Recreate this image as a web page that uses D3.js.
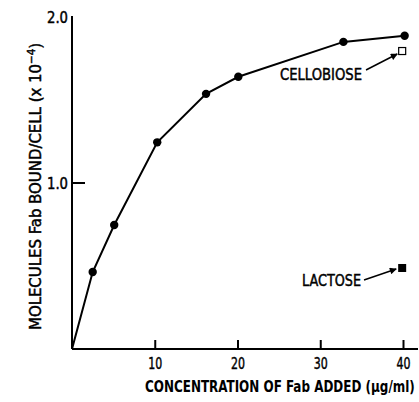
<!DOCTYPE html>
<html><head><meta charset="utf-8">
<script src="https://cdn.jsdelivr.net/npm/d3@7"></script>
<style>
body{margin:0;background:#fff;}
text{font-family:"Liberation Sans Narrow","Arial Narrow","DejaVu Sans Condensed",sans-serif;fill:#000;}
.med{stroke:#000;stroke-width:0.45;}
</style></head><body>
<svg id="c" width="419" height="402"></svg>
<script>
const concentration = [0, 2.5, 5.1, 10.3, 16.2, 20.1, 32.8, 40.2];
const fabBound = [0, 0.464, 0.747, 1.245, 1.537, 1.64, 1.85, 1.887];
const cellobiose = {x: 39.9, y: 1.795};
const lactose = {x: 39.9, y: 0.488};
const xTicks = [10, 20, 30, 40];
const yTicks = [1.0, 2.0];
const xTitle = "CONCENTRATION OF Fab ADDED (\u03bcg/ml)";

const svg = d3.select("#c");
const x = d3.scaleLinear().domain([0, 40]).range([72, 403]);
const y = d3.scaleLinear().domain([0, 2]).range([349, 17]);

// axes lines
svg.append("line").attr("x1", 72).attr("x2", 418).attr("y1", y(0)).attr("y2", y(0))
  .attr("stroke", "#000").attr("stroke-width", 2);
svg.append("line").attr("x1", 72).attr("x2", 72).attr("y1", y(0)).attr("y2", y(2) - 1)
  .attr("stroke", "#000").attr("stroke-width", 2);

// x ticks
const xa = svg.append("g").attr("transform", `translate(0,${y(0)})`)
  .call(d3.axisBottom(x).tickValues(xTicks).tickSize(-9).tickPadding(20).tickFormat(d3.format("d")));
xa.select(".domain").remove();
xa.selectAll(".tick line").attr("stroke-width", 2);
xa.selectAll(".tick text").attr("font-size", 16).attr("dy", "0").attr("class", "med")
  .attr("textLength", 14).attr("lengthAdjust", "spacingAndGlyphs");

// y ticks
const ya = svg.append("g").attr("transform", "translate(72,0)")
  .call(d3.axisLeft(y).tickValues(yTicks).tickSize(0).tickPadding(4).tickFormat(d3.format(".1f")));
ya.select(".domain").remove();
ya.selectAll(".tick text").attr("font-size", 16).attr("class", "med")
  .attr("textLength", 21).attr("lengthAdjust", "spacingAndGlyphs");
svg.append("line").attr("x1", 72).attr("x2", 85).attr("y1", y(1)).attr("y2", y(1))
  .attr("stroke", "#000").attr("stroke-width", 2);

// line + points
const pts = concentration.map((c, i) => [c, fabBound[i]]);
svg.append("path").datum(pts)
  .attr("d", d3.line().x(d => x(d[0])).y(d => y(d[1])))
  .attr("fill", "none").attr("stroke", "#000").attr("stroke-width", 2);
svg.selectAll("circle.p").data(pts.slice(1)).enter().append("circle")
  .attr("cx", d => x(d[0])).attr("cy", d => y(d[1])).attr("r", 4.2).attr("fill", "#000");

// squares
svg.append("rect").attr("x", x(cellobiose.x) - 3.5).attr("y", y(cellobiose.y) - 3.5)
  .attr("width", 7).attr("height", 7).attr("fill", "#fff").attr("stroke", "#000").attr("stroke-width", 1.2);
svg.append("rect").attr("x", x(lactose.x) - 4).attr("y", y(lactose.y) - 4)
  .attr("width", 8).attr("height", 8).attr("fill", "#000");

// arrows
svg.append("defs").append("marker").attr("id", "ah").attr("viewBox", "0 0 10 10")
  .attr("refX", 9).attr("refY", 5).attr("markerWidth", 10).attr("markerHeight", 7)
  .attr("markerUnits", "userSpaceOnUse").attr("orient", "auto")
  .append("path").attr("d", "M0,0 L10,5 L0,10 Z").attr("fill", "#000");
svg.append("line").attr("x1", 366).attr("y1", 70).attr("x2", x(cellobiose.x) - 5).attr("y2", y(cellobiose.y) + 3)
  .attr("stroke", "#000").attr("stroke-width", 1.5).attr("marker-end", "url(#ah)");
svg.append("line").attr("x1", 364).attr("y1", 280).attr("x2", x(lactose.x) - 6).attr("y2", y(lactose.y) + 1)
  .attr("stroke", "#000").attr("stroke-width", 1.5).attr("marker-end", "url(#ah)");

svg.append("text").attr("x", 280).attr("y", 80).attr("class", "med")
  .attr("font-size", 16).attr("textLength", 82).attr("lengthAdjust", "spacingAndGlyphs").text("CELLOBIOSE");
svg.append("text").attr("x", 302).attr("y", 286).attr("class", "med")
  .attr("font-size", 16).attr("textLength", 59).attr("lengthAdjust", "spacingAndGlyphs").text("LACTOSE");

// x title (scaled horizontally to fit)
const xt = svg.append("text").attr("font-size", 16).attr("font-weight", "bold").text(xTitle);
const nat = xt.node().getComputedTextLength();
xt.attr("transform", `translate(145,392) scale(${270 / nat},1)`);

// y title
const yt = svg.append("text").attr("transform", "translate(41,330) rotate(-90)").attr("class", "med")
  .attr("font-size", 16).attr("textLength", 287).attr("lengthAdjust", "spacingAndGlyphs");
yt.append("tspan").text("MOLECULES Fab BOUND/CELL (x 10");
yt.append("tspan").attr("dy", -6).attr("font-size", 11).text("\u22124");
yt.append("tspan").attr("dy", 6).text(")");
</script>
</body></html>
